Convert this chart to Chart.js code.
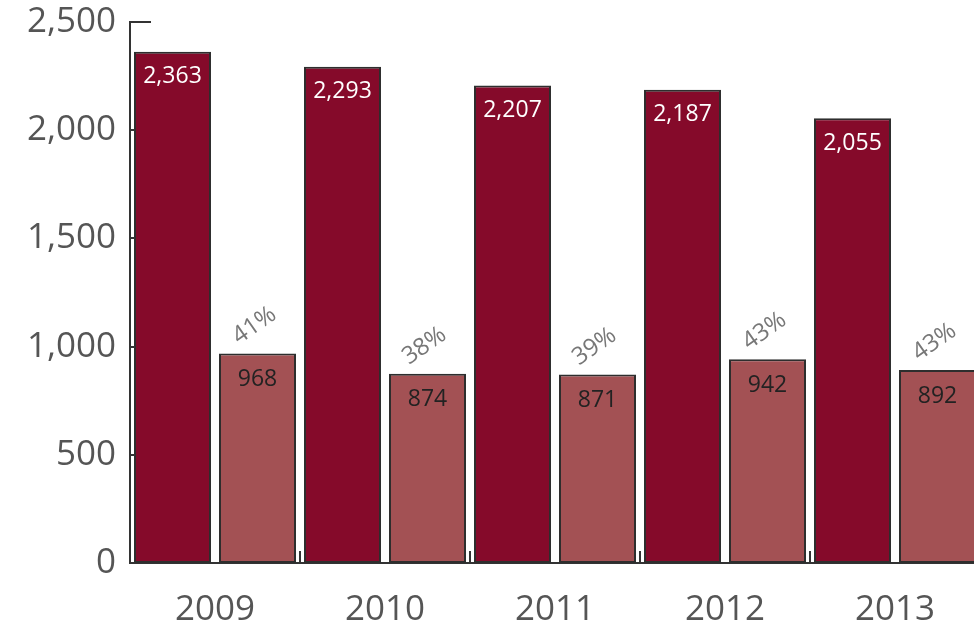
<!DOCTYPE html>
<html>
<head>
<meta charset="utf-8">
<script src="https://cdn.jsdelivr.net/npm/chart.js@4.4.1/dist/chart.umd.min.js"></script>
<style>
  html, body { margin: 0; padding: 0; background: #fff; overflow: hidden; }
  #wrap { width: 990px; height: 630px; }
</style>
</head>
<body>
<div id="wrap"><canvas id="chart" width="990" height="630"></canvas></div>
<script>
  // ---- data ----
  const years = ['2009', '2010', '2011', '2012', '2013'];
  const totals = [2363, 2293, 2207, 2187, 2055];
  const parts = [968, 874, 871, 942, 892];
  const shares = ['41%', '38%', '39%', '43%', '43%'];
  const yTicks = [0, 500, 1000, 1500, 2000, 2500];

  const FONT = "'Open Sans', 'Noto Sans', sans-serif";
  const fmt = v => Number(v).toLocaleString('en-US');

  // 値ラベル + 目盛り（内側）
  const labelPlugin = {
    id: 'barLabels',
    afterDatasetsDraw(chart) {
      const ctx = chart.ctx;
      const y = chart.scales.y, x = chart.scales.x;
      ctx.save();
      ctx.textAlign = 'center';
      ctx.textBaseline = 'middle';

      chart.getDatasetMeta(0).data.forEach((bar, i) => {
        ctx.fillStyle = '#ffffff';
        ctx.font = '23px ' + FONT;
        ctx.fillText(fmt(totals[i]), bar.x, bar.y + 25);
      });

      chart.getDatasetMeta(1).data.forEach((bar, i) => {
        ctx.fillStyle = '#222222';
        ctx.font = '23px ' + FONT;
        ctx.fillText(fmt(parts[i]), bar.x, bar.y + 26);

        ctx.save();
        ctx.translate(bar.x - 3, bar.y - 28);
        ctx.rotate(-35 * Math.PI / 180);
        ctx.fillStyle = '#777777';
        ctx.font = '24px ' + FONT;
        ctx.fillText(shares[i], 0, 0);
        ctx.restore();
      });

      // inner ticks
      ctx.strokeStyle = '#333333';
      ctx.lineWidth = 2;
      yTicks.forEach(v => {
        const py = Math.round(y.getPixelForValue(v));
        const len = v === yTicks[yTicks.length - 1] ? 21 : 5;
        ctx.beginPath();
        ctx.moveTo(y.right, py);
        ctx.lineTo(y.right + len, py);
        ctx.stroke();
      });
      for (let i = 0; i < years.length - 1; i++) {
        const px = Math.round((x.getPixelForTick(i) + x.getPixelForTick(i + 1)) / 2);
        ctx.beginPath();
        ctx.moveTo(px, x.top);
        ctx.lineTo(px, x.top - 12);
        ctx.stroke();
      }
      ctx.restore();
    }
  };

  new Chart(document.getElementById('chart'), {
    type: 'bar',
    data: {
      labels: years,
      datasets: [
        {
          data: totals,
          backgroundColor: '#850a2a',
          borderColor: '#2e2e2e',
          borderWidth: 2,
          borderSkipped: false,
          categoryPercentage: 1.0,
          barPercentage: 0.906
        },
        {
          data: parts,
          backgroundColor: '#a35154',
          borderColor: '#2e2e2e',
          borderWidth: 2,
          borderSkipped: false,
          categoryPercentage: 1.0,
          barPercentage: 0.906
        }
      ]
    },
    options: {
      responsive: false,
      animation: false,
      devicePixelRatio: 1,
      layout: { padding: { top: 22, right: 10, left: 0, bottom: 0 } },
      plugins: { legend: { display: false }, tooltip: { enabled: false } },
      scales: {
        x: {
          grid: { display: false, drawTicks: false },
          border: { display: true, color: '#333333', width: 2 },
          ticks: { color: '#555555', font: { family: FONT, size: 35 }, padding: 26 },
          afterFit(s) { s.height = 67; }
        },
        y: {
          min: 0, max: 2500,
          grid: { display: false, drawTicks: false },
          border: { display: true, color: '#333333', width: 2 },
          ticks: {
            stepSize: 500,
            color: '#555555',
            font: { family: FONT, size: 35 },
            padding: 14,
            callback: v => fmt(v)
          },
          afterFit(s) { s.width = 130; s.paddingTop = 0; s.paddingBottom = 0; }
        }
      }
    },
    plugins: [labelPlugin]
  });
</script>
</body>
</html>
